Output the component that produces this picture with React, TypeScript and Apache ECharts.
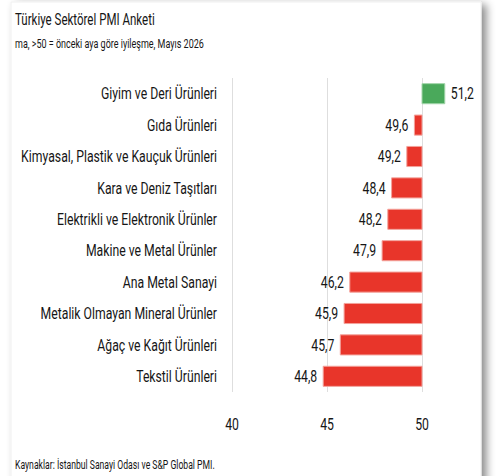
import React, { useEffect, useRef } from "react";
import * as echarts from "echarts";

const categories = [
  "Giyim ve Deri Ürünleri",
  "Gıda Ürünleri",
  "Kimyasal, Plastik ve Kauçuk Ürünleri",
  "Kara ve Deniz Taşıtları",
  "Elektrikli ve Elektronik Ürünler",
  "Makine ve Metal Ürünler",
  "Ana Metal Sanayi",
  "Metalik Olmayan Mineral Ürünler",
  "Ağaç ve Kağıt Ürünleri",
  "Tekstil Ürünleri",
];
const values = [51.2, 49.6, 49.2, 48.4, 48.2, 47.9, 46.2, 45.9, 45.7, 44.8];
const tickValues = [40, 45, 50];
const baseline = 50;
const titleText = "Türkiye Sektörel PMI Anketi";
const subtitleText = "ma, >50 = önceki aya göre iyileşme, Mayıs 2026";
const footerText = "Kaynaklar: İstanbul Sanayi Odası ve S&P Global PMI.";

const FONT = "Roboto, 'DejaVu Sans Condensed', sans-serif";
const SX = 0.72;
const GREEN = "#4aa95b";
const RED = "#e8352a";
const INK = "#161616";

const fmt = (v: number) => v.toFixed(1).replace(".", ",");

export default function App() {
  const ref = useRef<HTMLDivElement>(null);
  useEffect(() => {
    if (!ref.current) return;
    const chart = echarts.init(ref.current, undefined, { renderer: "svg" });
    const staticGraphic: any[] = [
      {
        id: "card",
        type: "rect",
        z: -10,
        shape: { x: 11, y: 2, width: 470, height: 490 },
        style: {
          fill: "#ffffff",
          stroke: "#f0f0f0",
          lineWidth: 1,
          shadowColor: "rgba(0,0,0,0.45)",
          shadowBlur: 8,
          shadowOffsetX: 5,
          shadowOffsetY: 3,
        },
      },
      {
        id: "title",
        type: "text",
        x: 15,
        y: 19,
        scaleX: SX,
        style: { text: titleText, font: `16px ${FONT}`, fill: INK, verticalAlign: "middle" },
      },
      {
        id: "subtitle",
        type: "text",
        x: 15,
        y: 44,
        scaleX: SX,
        style: { text: subtitleText, font: `12.5px ${FONT}`, fill: INK, verticalAlign: "middle" },
      },
      {
        id: "footer",
        type: "text",
        x: 15,
        y: 465,
        scaleX: SX,
        style: { text: footerText, font: `12px ${FONT}`, fill: INK, verticalAlign: "middle" },
      },
    ];
    chart.setOption({
      animation: false,
      backgroundColor: "#ffffff",
      graphic: staticGraphic,
      grid: { left: 232, right: 41, top: 78, bottom: 84, containLabel: false, outerBoundsMode: "none" },
      xAxis: {
        type: "value",
        min: 40,
        max: 52,
        interval: 5,
        axisLine: { show: false },
        axisTick: { show: false },
        axisLabel: { show: false },
        splitLine: { show: true, showMaxLine: false, lineStyle: { color: "#dedede", width: 1 } },
      },
      yAxis: {
        type: "category",
        inverse: true,
        data: categories,
        axisLine: { show: false },
        axisTick: { show: false },
        axisLabel: { show: false },
        splitLine: { show: false },
      },
      series: [
        {
          type: "custom",
          encode: { x: 0, y: 1 },
          data: values.map((v, i) => [v, i]),
          renderItem: (params: any, api: any) => {
            const v = api.value(0);
            const idx = api.value(1);
            const p0 = api.coord([baseline, idx]);
            const p1 = api.coord([v, idx]);
            const pl = api.coord([40, idx]);
            const bh = api.size([0, 1])[1] * 0.64;
            const x = Math.min(p0[0], p1[0]);
            const w = Math.abs(p1[0] - p0[0]);
            const up = v >= baseline;
            return {
              type: "group",
              children: [
                {
                  type: "rect",
                  shape: { x, y: p0[1] - bh / 2, width: w, height: bh },
                  style: {
                    fill: up ? GREEN : RED,
                    stroke: up ? "#a3d6aa" : "#f3a29b",
                    lineWidth: 1,
                  },
                },
                {
                  type: "text",
                  x: up ? p1[0] + 6 : p1[0] - 6,
                  y: p0[1],
                  scaleX: SX,
                  style: {
                    text: fmt(v),
                    align: up ? "left" : "right",
                    verticalAlign: "middle",
                    font: `17px ${FONT}`,
                    fill: INK,
                  },
                },
                {
                  type: "text",
                  x: pl[0] - 15,
                  y: p0[1],
                  scaleX: SX,
                  style: {
                    text: categories[idx],
                    align: "right",
                    verticalAlign: "middle",
                    font: `17px ${FONT}`,
                    fill: INK,
                  },
                },
              ],
            };
          },
        },
      ],
    });
    const tickGraphic = tickValues.map((t, i) => {
      const p = chart.convertToPixel({ gridIndex: 0 }, [t, 0]) as number[];
      return {
        id: "tick" + i,
        type: "text",
        x: p[0],
        y: 424,
        scaleX: SX,
        style: { text: String(t), align: "center", verticalAlign: "middle", font: `17px ${FONT}`, fill: INK },
      };
    });
    chart.setOption({ graphic: [...staticGraphic, ...tickGraphic] });
    return () => chart.dispose();
  }, []);
  return (
    <div ref={ref} style={{ position: "absolute", left: 0, top: 0, width: 501, height: 476 }} />
  );
}
